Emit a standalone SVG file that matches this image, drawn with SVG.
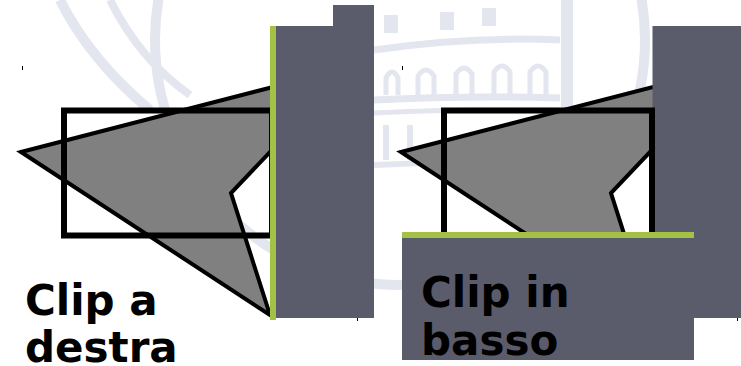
<svg xmlns="http://www.w3.org/2000/svg" width="741" height="366" viewBox="0 0 741 366">
  <defs>
    <style>
      .wm { fill: none; stroke: #e3e6ee; }
      .wmf { fill: #e3e6ee; }
      .shape { fill: #808080; stroke: #000; stroke-width: 4; stroke-linejoin: miter; }
      .win { fill: none; stroke: #000; stroke-width: 6; }
      .dark { fill: #5a5b6b; }
      .edge { fill: #a3c144; }
      .lbl { font-family: "DejaVu Sans", "Liberation Sans", sans-serif; font-weight: bold; font-size: 42px; fill: #000; }
      .tick { stroke: #000; stroke-width: 1; }
    </style>
  </defs>
  <rect x="0" y="0" width="741" height="366" fill="#ffffff"/>
  <g id="watermark">
    <circle class="wm" cx="400" cy="40" r="245" stroke-width="10"/>
    <path class="wm" d="M60,0 Q90,60 150,110" stroke-width="10"/>
    <path class="wm" d="M110,0 Q140,60 190,95" stroke-width="8"/>
    <path class="wm" d="M374,50 Q470,36 560,40" stroke-width="7"/>
    <path class="wm" d="M374,100 Q470,95 560,98" stroke-width="7"/>
    <path class="wm" d="M374,113 Q470,108 560,110" stroke-width="5"/>
    <path class="wm" d="M374,165 Q470,160 560,165" stroke-width="6"/>
    <rect class="wmf" x="561" y="0" width="12" height="240"/>
    <rect class="wmf" x="384" y="15" width="14" height="18"/>
    <rect class="wmf" x="440" y="12" width="14" height="18"/>
    <rect class="wmf" x="482" y="8" width="14" height="18"/>
    <path class="wm" d="M386,95 V78 Q392,66 398,78 V95 M418,95 V76 Q426,64 434,76 V95 M456,95 V74 Q464,62 472,74 V95 M494,95 V72 Q502,60 510,72 V95 M530,95 V72 Q538,60 546,72 V95" stroke-width="5"/>
    <path class="wm" d="M386,160 V125 M410,160 V125 M520,160 V120 M545,160 V118" stroke-width="6"/>
  </g>
  <g id="panel-right-clip">
    <polygon id="polygon-a" class="shape" points="21,152 300,80 300,120.5 231,193 270,315"/>
    <rect id="window-a" class="win" x="64" y="110.5" width="208" height="125"/>
    <path id="outside-a" class="dark" d="M276,26 H333 V5 H374 V318 H276 Z"/>
    <rect id="edge-a" class="edge" x="270" y="26" width="6" height="294"/>
  </g>
  <g id="panel-bottom-clip">
    <polygon id="polygon-b" class="shape" points="401,152 680,80 680,120.5 611,193 650,315"/>
    <rect id="outside-b-right" class="dark" x="652.5" y="26" width="88.5" height="292"/>
    <rect id="window-b" class="win" x="444" y="110.5" width="208" height="125"/>
    <rect id="outside-b-bottom" class="dark" x="402" y="238" width="292" height="122"/>
    <rect id="edge-b" class="edge" x="402" y="232" width="292" height="6"/>
  </g>
  <g id="ticks">
    <line class="tick" x1="22.5" y1="66" x2="22.5" y2="70"/>
    <line class="tick" x1="402.5" y1="66" x2="402.5" y2="70"/>
    <line class="tick" x1="357.5" y1="318" x2="357.5" y2="321"/>
    <line class="tick" x1="737.5" y1="318" x2="737.5" y2="321"/>
  </g>
  <g id="label-a">
    <text class="lbl" x="25" y="315">Clip a</text>
    <text class="lbl" x="25" y="362">destra</text>
  </g>
  <g id="label-b">
    <text class="lbl" x="421" y="307">Clip in</text>
    <text class="lbl" x="421" y="355">basso</text>
  </g>
</svg>
